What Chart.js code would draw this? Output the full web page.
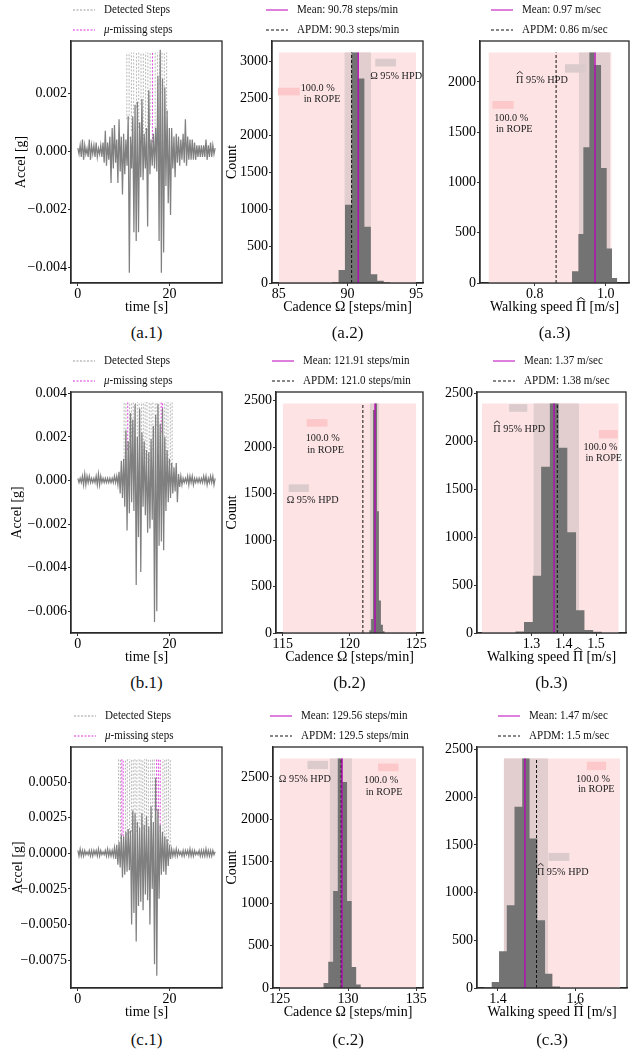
<!DOCTYPE html>
<html>
<head>
<meta charset="utf-8">
<script src="https://cdn.jsdelivr.net/npm/chart.js@4.4.1/dist/chart.umd.min.js"></script>
<style>
  body { margin: 0; background: #fff; width: 639px; height: 1057px; position: relative; overflow: hidden; }
  canvas { position: absolute; }
  .cap { position: absolute; font-family: "Liberation Serif", serif; font-size: 17px; color: #111; transform: translate(-50%, -50%); white-space: nowrap; }
</style>
</head>
<body>
<script>
const FONT = "'Liberation Serif', 'Times New Roman', serif";

// accel traces, one sample every 0.25 s, values in 1e-4 g
const sampleDt = 0.25;
const accelUnit = 1e-4;
const accelA = [1,-1,2,-2,4,-3,2,-1,1,-2, 4,-3,2,-1,2,-2,3,-2,1,-1, 2,-2,3,-4,7,-5,3,-3,5,-11,
  8,-6,9,-4,4,-11,11,-7,5,-15, 6,-8,4,-5,12,-42,5,-6,12,-28, 16,-31,17,-28,10,-9,18,-10,6,-6,
  8,-26,21,-8,4,-5,6,-6,8,-7, 26,-31,35,-42,25,-35,22,-12,14,-18, 8,-22,8,-6,5,-9,6,-4,5,-5,
  4,-3,6,-4,11,-5,5,-3,4,-3, 4,-3,3,-3,2,-2,2,-2,2,-2, 2,-2,4,-3,2,-2,3,-2,2,-1, 1];
const accelB = [1,-1,1,-1,2,-2,3,-2,2,-1, 2,-1,1,-1,1,-1,2,-2,3,-2, 2,-1,1,-1,1,-1,1,-1,1,-1,
  1,-1,2,-1,2,-2,4,-6,9,-8, 10,-12,23,-23,18,-15,31,-10,28,-14, 35,-48,20,-26,33,-42,22,-12,18,-16,
  14,-24,13,-22,19,-18,25,-65,30,-60, 35,-30,26,-28,33,-32,20,-14,14,-10, 10,-8,8,-6,6,-5,8,-10,3,-3,
  2,-2,1,-1,1,-1,2,-2,2,-1, 2,-2,1,-1,1,-1,1,-1,1,-1, 2,-1,2,-2,1,-1,2,-1,2,-2, 1];
const accelC = [2,-2,3,-2,2,-2,2,-1,1,-1, 2,-2,2,-2,2,-1,2,-2,3,-2, 2,-1,1,-1,2,-2,3,-2,2,-2,
  2,-2,4,-4,6,-8,8,-10,13,-17, 12,-15,15,-13,17,-12,16,-50,30,-42, 28,-62,22,-37,18,-34,28,-40,20,-29,
  26,-33,19,-50,33,-25,22,-78,53,-86, 31,-32,20,-15,15,-13,12,-15,10,-9, 6,-4,3,-2,2,-2,3,-2,2,-1,
  1,-2,2,-2,2,-1,2,-2,3,-2, 2,-2,2,-1,1,-1,2,-2,2,-2, 2,-2,3,-2,2,-2,2,-2,2,-1, 1];

// detected / missing step times [s] and the lower end of each marker (1e-4 g)
const stepTop = [34, 36, 66];
const stepsA = [10.7, 11.2, 11.7, 12.2, 12.8, 13.3, 13.8, 14.3, 14.8, 15.3, 15.8, 16.9, 17.4, 17.9, 18.4, 18.9, 19.4];
const stepLowA = [11, 11, 7, 13, 15, 8, 16, 4, 6, 7, 9, 8, 12, 23, 20, 21, 13];
const missA = [16.3];
const missLowA = [3];
const stepsB = [10.1, 10.5, 11.3, 11.7, 12.1, 12.6, 13.0, 13.4, 13.9, 14.3, 14.7, 15.1, 15.6, 16.0, 16.4, 16.9, 17.3, 17.7, 18.9, 19.3, 19.7, 20.2, 20.6];
const stepLowB = [9, 12, 15, 20, 22, 25, 18, 20, 15, 12, 10, 8, 9, 12, 14, 20, 25, 15, 12, 10, 8, 7, 6];
const missB = [10.9, 18.2, 18.5];
const missLowB = [14, 22, 20];
const stepsC = [8.9, 9.3, 10.4, 10.8, 11.3, 11.7, 12.1, 12.5, 12.9, 13.4, 13.8, 14.2, 14.6, 15.0, 15.4, 15.9, 16.3, 16.7, 18.6, 19.0, 19.4, 19.8, 20.2];
const stepLowC = [8, 10, 12, 13, 14, 15, 20, 18, 15, 18, 20, 17, 16, 18, 15, 20, 25, 30, 14, 10, 8, 6, 5];
const missC = [9.6, 9.9, 17.2, 17.6, 18.0];
const missLowC = [13, 12, 30, 25, 15];

// posterior histograms: bin edges and counts
const cadEdgesA = [88.88, 89.35, 89.82, 90.29, 90.76, 91.23, 91.70, 92.17, 92.64, 93.11];
const cadCountsA = [10, 175, 1060, 3120, 2770, 760, 120, 30, 10];
const spdEdgesA = [0.905, 0.923, 0.937, 0.954, 0.968, 0.987, 1.003, 1.018, 1.033];
const spdCountsA = [117, 487, 1350, 2293, 2170, 1143, 343, 50];
const cadEdgesB = [121.47, 121.62, 121.76, 121.91, 122.06, 122.20, 122.35, 122.50, 122.64];
const cadCountsB = [30, 150, 2400, 2471, 1310, 350, 90, 20];
const spdEdgesB = [1.250, 1.277, 1.304, 1.330, 1.357, 1.384, 1.411, 1.438, 1.464, 1.491, 1.518];
const spdCountsB = [15, 115, 597, 1735, 2394, 1933, 1050, 236, 30, 12];
const cadEdgesC = [128.19, 128.55, 128.91, 129.25, 129.59, 129.93, 130.27, 130.60, 130.94];
const cadCountsC = [60, 310, 1150, 2718, 2440, 1030, 250, 40];
const spdEdgesC = [1.364, 1.384, 1.403, 1.423, 1.443, 1.463, 1.482, 1.502, 1.522, 1.541, 1.561];
const spdCountsC = [10, 63, 385, 867, 1899, 2406, 1567, 710, 150, 17];

const meanCad = [90.78, 121.91, 129.56];
const apdmCad = [90.3, 121.0, 129.5];
const meanSpd = [0.97, 1.37, 1.47];
const apdmSpd = [0.86, 1.38, 1.5];
const ropeCad = [[85, 95], [115, 125], [125, 135]];
const ropeSpd = [[0.669, 1.017], [1.147, 1.57], [1.415, 1.716]];
const hpdCad = [[89.77, 91.72], [121.54, 122.2], [128.65, 130.29]];
const hpdSpd = [[0.924, 1.013], [1.306, 1.448], [1.415, 1.53]];

// tick values
const timeTicks = [0, 20];
const accTicksA = [-0.004, -0.002, 0, 0.002];
const accTicksB = [-0.006, -0.004, -0.002, 0, 0.002, 0.004];
const accTicksC = [-0.0075, -0.005, -0.0025, 0, 0.0025, 0.005];
const cadTicksA = [85, 90, 95];
const cadTicksB = [115, 120, 125];
const cadTicksC = [125, 130, 135];
const spdTicksA = [0.8, 1.0];
const spdTicksB = [1.3, 1.4, 1.5];
const spdTicksC = [1.4, 1.6];
const countTicksA = [0, 500, 1000, 1500, 2000, 2500, 3000];
const countTicksB = [0, 500, 1000, 1500, 2000, 2500];
const countTicksC = [0, 500, 1000, 1500, 2000];

const C_ROPE = '#fde3e4', C_HPD = '#e2cecf', C_BAR = '#737373', C_MEAN = '#bb00bb';
const C_PATCH_R = '#fcc8c9', C_PATCH_H = '#dccbcc';

// panel layout: plot = [left, top, right, bottom] in page px, cv = canvas [left, right]
const panels = [
  { id: 'a1', kind: 'acc', plot: [71, 41, 222, 283], cv: [0, 228], cap: '(a.1)', capY: 333,
    acc: accelA, steps: stepsA, low: stepLowA, miss: missA, missLow: missLowA, top: stepTop[0],
    yr: [-0.00455, 0.0038], yt: accTicksA, dec: 3, tpad: 14, leg: 2 },
  { id: 'a2', kind: 'cad', plot: [272, 41, 423, 283], cv: [224, 432], cap: '(a.2)', capY: 333,
    edges: cadEdgesA, counts: cadCountsA, mean: meanCad[0], apdm: apdmCad[0], rope: ropeCad[0], hpd: hpdCad[0],
    xr: [84.5, 95.5], xt: cadTicksA, yt: countTicksA, leg: -6,
    rp: [84.93, 86.52, 2540, 2643], rt: [[86.59, 2643, '100.0 %'], [86.81, 2485, 'in ROPE']],
    hp: [92.02, 93.53, 2931, 3035], ht: [91.65, 2796] },
  { id: 'a3', kind: 'spd', plot: [480, 41, 629, 283], cv: [432, 639], cap: '(a.3)', capY: 333,
    edges: spdEdgesA, counts: spdCountsA, mean: meanSpd[0], apdm: apdmSpd[0], rope: ropeSpd[0], hpd: hpdSpd[0],
    xr: [0.645, 1.066], xt: spdTicksA, yt: countTicksC, leg: 11,
    rp: [0.680, 0.740, 1733, 1810], rt: [[0.685, 1643, '100.0 %'], [0.690, 1533, 'in ROPE']],
    hp: [0.885, 0.944, 2093, 2177], ht: [0.747, 2020] },
  { id: 'b1', kind: 'acc', plot: [71, 392, 222, 633], cv: [0, 228], cap: '(b.1)', capY: 683,
    acc: accelB, steps: stepsB, low: stepLowB, miss: missB, missLow: missLowB, top: stepTop[1],
    yr: [-0.0070, 0.00406], yt: accTicksB, dec: 3, tpad: 10, leg: 2 },
  { id: 'b2', kind: 'cad', plot: [276, 392, 423, 633], cv: [224, 432], cap: '(b.2)', capY: 683,
    edges: cadEdgesB, counts: cadCountsB, mean: meanCad[1], apdm: apdmCad[1], rope: ropeCad[1], hpd: hpdCad[1],
    xr: [114.5, 125.5], xt: cadTicksB, yt: countTicksB, leg: -4,
    rp: [116.79, 118.35, 2221, 2303], rt: [[116.72, 2100, '100.0 %'], [116.84, 1964, 'in ROPE']],
    hp: [115.45, 116.96, 1518, 1600], ht: [115.3, 1428] },
  { id: 'b3', kind: 'spd', plot: [477, 392, 626, 633], cv: [432, 639], cap: '(b.3)', capY: 683,
    edges: spdEdgesB, counts: spdCountsB, mean: meanSpd[1], apdm: apdmSpd[1], rope: ropeSpd[1], hpd: hpdSpd[1],
    xr: [1.1315, 1.5926], xt: spdTicksB, yt: countTicksB, leg: 16,
    rp: [1.509, 1.567, 2030, 2117], rt: [[1.461, 1936, '100.0 %'], [1.467, 1822, 'in ROPE']],
    hp: [1.231, 1.287, 2307, 2387], ht: [1.182, 2124] },
  { id: 'c1', kind: 'acc', plot: [71, 747, 222, 988], cv: [0, 228], cap: '(c.1)', capY: 1040,
    acc: accelC, steps: stepsC, low: stepLowC, miss: missC, missLow: missLowC, top: stepTop[2],
    yr: [-0.00946, 0.00746], yt: accTicksC, dec: 4, tpad: 11, leg: 3 },
  { id: 'c2', kind: 'cad', plot: [273, 747, 423, 988], cv: [224, 432], cap: '(c.2)', capY: 1040,
    edges: cadEdgesC, counts: cadCountsC, mean: meanCad[2], apdm: apdmCad[2], rope: ropeCad[2], hpd: hpdCad[2],
    xr: [124.5, 135.5], xt: cadTicksC, yt: countTicksB, leg: -3,
    rp: [132.2, 133.7, 2567, 2658], rt: [[131.18, 2461, '100.0 %'], [131.3, 2323, 'in ROPE']],
    hp: [127.03, 128.53, 2592, 2690], ht: [124.93, 2469] },
  { id: 'c3', kind: 'spd', plot: [477, 747, 627, 988], cv: [432, 639], cap: '(c.3)', capY: 1040,
    edges: spdEdgesC, counts: spdCountsC, mean: meanSpd[2], apdm: apdmSpd[2], rope: ropeSpd[2], hpd: hpdSpd[2],
    xr: [1.346, 1.734], xt: spdTicksC, yt: countTicksB, leg: 21,
    rp: [1.630, 1.680, 2284, 2371], rt: [[1.602, 2186, '100.0 %'], [1.607, 2081, 'in ROPE']],
    hp: [1.531, 1.585, 1332, 1416], ht: [1.501, 1217] }
];

const PAD_TOP = 45, X_AXIS_H = 36;
const SPD_TITLE_PRE = 'Walking speed ', SPD_TITLE = 'Walking speed Π [m/s]';
const byId = {};
panels.forEach(p => byId[p.id] = p);

function stepPoints(times, lows, top) {
  const pts = [];
  times.forEach((t, i) => {
    pts.push({ x: t, y: lows[i] * accelUnit }, { x: t, y: top * accelUnit }, { x: t, y: null });
  });
  return pts;
}

// little circumflex over a Π (cx = glyph centre, y = just above the cap)
function hat(ctx, cx, y, w) {
  ctx.save();
  ctx.setLineDash([]);
  ctx.strokeStyle = '#111';
  ctx.lineWidth = 0.9;
  ctx.beginPath();
  ctx.moveTo(cx - w / 2, y + 1.5);
  ctx.lineTo(cx, y - 1);
  ctx.lineTo(cx + w / 2, y + 1.5);
  ctx.stroke();
  ctx.restore();
}

const figPlugin = {
  id: 'figParts',
  afterDatasetsDraw(chart) {
    const p = byId[chart.canvas.id];
    if (!p || p.kind === 'acc') return;
    const ctx = chart.ctx, xs = chart.scales.x, ys = chart.scales.y;
    const patch = (r, col) => {
      const x0 = xs.getPixelForValue(r[0]), x1 = xs.getPixelForValue(r[1]);
      const y0 = ys.getPixelForValue(r[2]), y1 = ys.getPixelForValue(r[3]);
      ctx.fillStyle = col;
      ctx.fillRect(x0, y1, x1 - x0, y0 - y1);
    };
    const text = (x, y, s, withHat) => {
      ctx.save();
      ctx.translate(xs.getPixelForValue(x), ys.getPixelForValue(y));
      ctx.scale(0.93, 1);
      ctx.font = '11px ' + FONT;
      ctx.fillStyle = '#222';
      ctx.textBaseline = 'middle';
      ctx.fillText(s, 0, 0);
      if (withHat) {
        const w = ctx.measureText('Π').width;
        hat(ctx, w / 2, -7.5, w * 0.8);
      }
      ctx.restore();
    };
    ctx.save();
    patch(p.rp, C_PATCH_R);
    patch(p.hp, C_PATCH_H);
    p.rt.forEach(r => text(r[0], r[1], r[2]));
    text(p.ht[0], p.ht[1], (p.kind === 'cad' ? 'Ω' : 'Π') + ' 95% HPD', p.kind === 'spd');
    ctx.restore();
  },
  afterDraw(chart) {
    const p = byId[chart.canvas.id];
    const ctx = chart.ctx, ca = chart.chartArea;
    ctx.save();
    ctx.strokeStyle = '#2a2a2a';
    ctx.lineWidth = 1.3;
    ctx.strokeRect(ca.left, ca.top, ca.right - ca.left, ca.bottom - ca.top);
    // hat on the Π of the walking-speed axis title
    if (p.kind === 'spd') {
      ctx.font = '14px ' + FONT;
      const full = ctx.measureText(SPD_TITLE).width;
      const pre = ctx.measureText(SPD_TITLE_PRE).width;
      const pw = ctx.measureText('Π').width;
      const cx = (ca.left + ca.right) / 2 - full / 2 + pre + pw / 2;
      hat(ctx, cx, ca.bottom + X_AXIS_H - 12 - 8.5, pw * 0.75);
    }
    // legend above the axes
    const items = p.kind === 'acc'
      ? [{ text: 'Detected Steps', color: '#9a9a9a', dash: [2, 1.5] },
         { text: '-missing steps', mu: true, color: '#dd33dd', dash: [2, 1.5] }]
      : [{ text: 'Mean: ' + p.mean.toFixed(2) + (p.kind === 'cad' ? ' steps/min' : ' m/sec'), color: C_MEAN, dash: [] },
         { text: 'APDM: ' + (p.kind === 'cad' ? p.apdm.toFixed(1) + ' steps/min' : p.apdm + ' m/sec'), color: '#111', dash: [3, 2] }];
    const x0 = ca.left + p.leg;
    items.forEach((it, k) => {
      const y = ca.top - 31 + 20 * k;
      ctx.strokeStyle = it.color;
      ctx.lineWidth = 1;
      ctx.setLineDash(it.dash);
      ctx.beginPath();
      ctx.moveTo(x0, y);
      ctx.lineTo(x0 + 22, y);
      ctx.stroke();
      ctx.setLineDash([]);
      ctx.save();
      ctx.translate(x0 + 31, y);
      ctx.scale(0.85, 1);
      ctx.fillStyle = '#111';
      ctx.textBaseline = 'middle';
      let tx = 0;
      if (it.mu) {
        ctx.font = 'italic 13px ' + FONT;
        ctx.fillText('μ', 0, 0);
        tx = ctx.measureText('μ').width;
      }
      ctx.font = '13px ' + FONT;
      ctx.fillText(it.text, tx, 0);
      ctx.restore();
    });
    ctx.restore();
  }
};

function axisBase(ticks, fmt) {
  return {
    type: 'linear',
    afterBuildTicks: s => { s.ticks = ticks.map(v => ({ value: v })); },
    ticks: { font: { family: FONT, size: 14, lineHeight: 1 }, color: '#000', padding: 1, maxRotation: 0, callback: fmt },
    grid: { drawOnChartArea: false, drawTicks: true, tickLength: 3, color: '#333', lineWidth: 1 },
    border: { display: true, color: '#2a2a2a', width: 1.3 }
  };
}

function line(data, color, width, dash) {
  return { data, borderColor: color, borderWidth: width, borderDash: dash || [], pointRadius: 0, fill: false, tension: 0 };
}

const titleFont = { family: FONT, size: 14, lineHeight: 1 };

panels.forEach(p => {
  const [pl, pt, pr, pb] = p.plot;
  const cvL = p.cv[0], cvR = p.cv[1];
  const canvas = document.createElement('canvas');
  canvas.id = p.id;
  canvas.width = cvR - cvL;
  canvas.height = PAD_TOP + (pb - pt) + X_AXIS_H;
  canvas.style.left = cvL + 'px';
  canvas.style.top = (pt - PAD_TOP) + 'px';
  document.body.appendChild(canvas);

  const cap = document.createElement('div');
  cap.className = 'cap';
  cap.textContent = p.cap;
  cap.style.left = ((pl + pr) / 2) + 'px';
  cap.style.top = p.capY + 'px';
  document.body.appendChild(cap);

  let datasets, x, y;
  if (p.kind === 'acc') {
    const trace = p.acc.map((v, i) => ({ x: i * sampleDt, y: v * accelUnit }));
    datasets = [
      line(trace, '#808080', 1.25),
      line(stepPoints(p.miss, p.missLow, p.top), '#dd33dd', 0.9, [2, 1.5]),
      line(stepPoints(p.steps, p.low, p.top), '#a4a4a4', 0.8, [2, 1.5])
    ];
    x = axisBase(timeTicks, v => String(v));
    x.min = -1.5; x.max = 31.5;
    y = axisBase(p.yt, v => v.toFixed(p.dec).replace('-', '\u2212'));
    y.min = p.yr[0]; y.max = p.yr[1];
    y.title = { display: true, text: 'Accel [g]', color: '#000', font: titleFont, padding: { top: p.tpad, bottom: 0 } };
    x.title = { display: true, text: 'time [s]', color: '#000', font: titleFont, padding: { top: 0, bottom: 5 } };
  } else {
    const top = Math.max(...p.counts);
    const hist = p.counts.map((c, i) => ({ x: p.edges[i], y: c }));
    hist.push({ x: p.edges[p.counts.length], y: 0 });
    const band = (r, col) => ({ data: [{ x: r[0], y: top }, { x: r[1], y: top }], borderWidth: 0, borderColor: 'rgba(0,0,0,0)',
      backgroundColor: col, fill: 'origin', pointRadius: 0 });
    datasets = [
      line([{ x: p.mean, y: 0 }, { x: p.mean, y: top }], C_MEAN, 1.3),
      line([{ x: p.apdm, y: 0 }, { x: p.apdm, y: top }], '#111', 1, [3, 2]),
      { data: hist, stepped: true, borderWidth: 0, borderColor: 'rgba(0,0,0,0)', backgroundColor: C_BAR, fill: 'origin', pointRadius: 0 },
      band(p.hpd, C_HPD),
      band(p.rope, C_ROPE)
    ];
    const dec = p.kind === 'cad' ? 0 : 1;
    x = axisBase(p.xt, v => v.toFixed(dec));
    x.min = p.xr[0]; x.max = p.xr[1];
    y = axisBase(p.yt, v => String(v));
    y.min = 0; y.max = top * 1.05;
    if (p.kind === 'cad') {
      y.title = { display: true, text: 'Count', color: '#000', font: titleFont, padding: { top: 1, bottom: 0 } };
    }
    x.title = { display: true, text: p.kind === 'cad' ? 'Cadence Ω [steps/min]' : SPD_TITLE, color: '#000',
      font: titleFont, padding: { top: 0, bottom: 5 } };
  }
  x.afterFit = s => { s.height = X_AXIS_H; };
  y.afterFit = s => { s.width = pl - cvL; };

  new Chart(canvas.getContext('2d'), {
    type: 'line',
    data: { datasets },
    options: {
      responsive: false,
      animation: false,
      devicePixelRatio: 1,
      events: [],
      layout: { padding: { left: 0, top: PAD_TOP, right: cvR - pr, bottom: 0 } },
      scales: { x, y },
      plugins: { legend: { display: false }, tooltip: { enabled: false } }
    },
    plugins: [figPlugin]
  });
});
</script>
</body>
</html>
